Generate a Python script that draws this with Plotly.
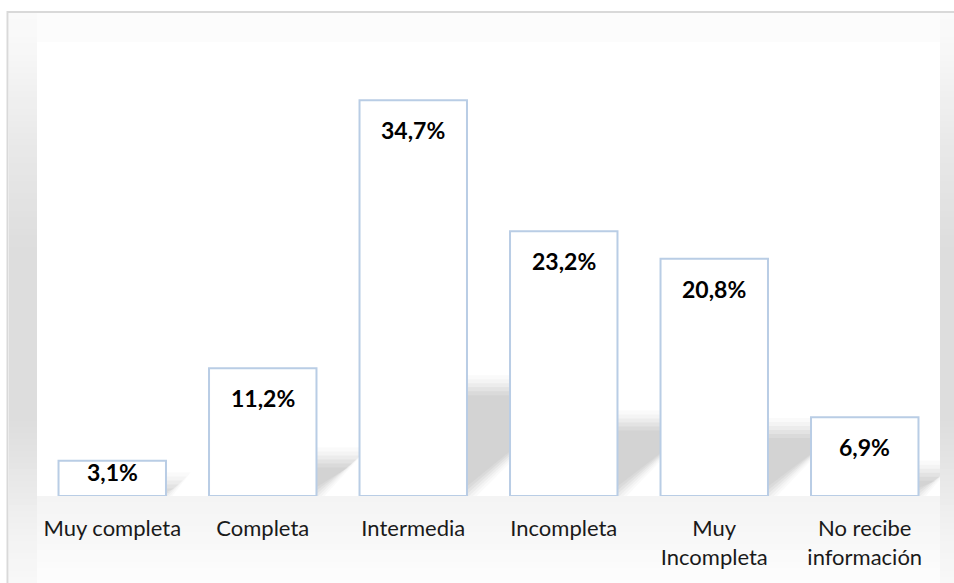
import plotly.graph_objects as go

categories = ["Muy completa", "Completa", "Intermedia", "Incompleta", "Muy Incompleta", "No recibe información"]
tick_labels = ["Muy completa", "Completa", "Intermedia", "Incompleta", "Muy<br>Incompleta", "No recibe<br>información"]
values = [3.1, 11.2, 34.7, 23.2, 20.8, 6.9]
value_labels = ["3,1%", "11,2%", "34,7%", "23,2%", "20,8%", "6,9%"]

W, H = 954, 583
ML, MR, MT, MB = 37, 14, 42, 87
PW, PH = W - ML - MR, H - MT - MB
YMAX = 39.8
BAR_W = 0.714
FONT = "Lato"

fig = go.Figure()
fig.add_trace(go.Bar(
    x=categories, y=values, width=BAR_W,
    marker=dict(color="white", line=dict(color="#b9cde5", width=2)),
    hoverinfo="skip", showlegend=False,
))

shapes = []

def px_rect(x0, x1, y0, y1, color, line=None):
    shapes.append(dict(
        type="rect", xref="paper", yref="paper", layer="below",
        x0=(x0 - ML) / PW, x1=(x1 - ML) / PW,
        y0=(H - MB - y1) / PH, y1=(H - MB - y0) / PH,
        fillcolor=color, line=line or dict(width=0),
    ))

def interp(stops, y):
    for (ya, ga), (yb, gb) in zip(stops, stops[1:]):
        if ya <= y <= yb:
            t = (y - ya) / (yb - ya) if yb > ya else 0
            return ga + (gb - ga) * t
    return stops[-1][1]

def gray(g):
    g = int(round(g))
    return f"rgb({g},{g},{g})"

# frame background
px_rect(9, 960, 13, 600, "#fcfcfc")
side_stops = [(13, 250), (42, 248), (150, 232), (250, 221), (420, 221), (480, 232), (530, 242), (583, 248)]
step = 6
y = 13
while y < 583:
    c = gray(interp(side_stops, y + step / 2))
    px_rect(9, ML, y, y + step, c)
    px_rect(ML + PW, 960, y, y + step, c)
    y += step
bottom_stops = [(496, 244), (540, 248), (583, 253)]
y = 496
while y < 583:
    px_rect(ML, ML + PW, y, y + step, gray(interp(bottom_stops, y + step / 2)))
    y += step
# plot area white
px_rect(ML, ML + PW, MT, H - MB, "#ffffff")
# outer border
px_rect(7.5, 970, 12, 600, "rgba(0,0,0,0)", line=dict(color="#d9d9d9", width=2))

# soft perspective shadows behind bars
ppu_y = PH / YMAX
ppu_x = PW / len(categories)
for i, v in enumerate(values):
    xr = i + BAR_W / 2
    top = 0.27 * v
    off = 1.1 * top * ppu_y / ppu_x
    for grow, alpha in [(14, 0.03), (10, 0.04), (6, 0.05), (2, 0.06), (-2, 0.06), (-6, 0.05)]:
        gx = grow / ppu_x
        gy = grow / ppu_y
        t = max(top + gy, 0.2)
        path = (f"M {xr - 0.03} {-gy} L {xr + off + gx} {t} "
                f"L {xr - 0.03} {t} Z")
        shapes.append(dict(type="path", xref="x", yref="y", path=path, layer="below",
                           fillcolor=f"rgba(90,90,90,{alpha})", line=dict(width=0)))

annotations = []
for cat, v, lab in zip(categories, values, value_labels):
    bar_px = v * ppu_y
    shift = -14 if bar_px > 60 else 5
    annotations.append(dict(
        x=cat, y=v, xref="x", yref="y", text=f"<b>{lab}</b>", showarrow=False,
        yanchor="top", yshift=shift,
        font=dict(family=FONT, size=23, color="#000000"),
    ))

fig.update_layout(
    width=W, height=H,
    margin=dict(l=ML, r=MR, t=MT, b=MB, pad=0),
    paper_bgcolor="white", plot_bgcolor="rgba(0,0,0,0)",
    shapes=shapes, annotations=annotations,
    bargap=0.286,
    xaxis=dict(
        type="category", range=[-0.5, 5.5],
        tickvals=categories, ticktext=tick_labels,
        tickfont=dict(family=FONT, size=22, color="#1a1a1a"),
        showgrid=False, zeroline=False, showline=False, ticks="",
        ticklabelstandoff=17,
    ),
    yaxis=dict(range=[0, YMAX], visible=False, showgrid=False, zeroline=False),
    showlegend=False,
)

fig.write_html("out.html", config={"displayModeBar": False},
               post_script="document.body.style.margin='0';")
